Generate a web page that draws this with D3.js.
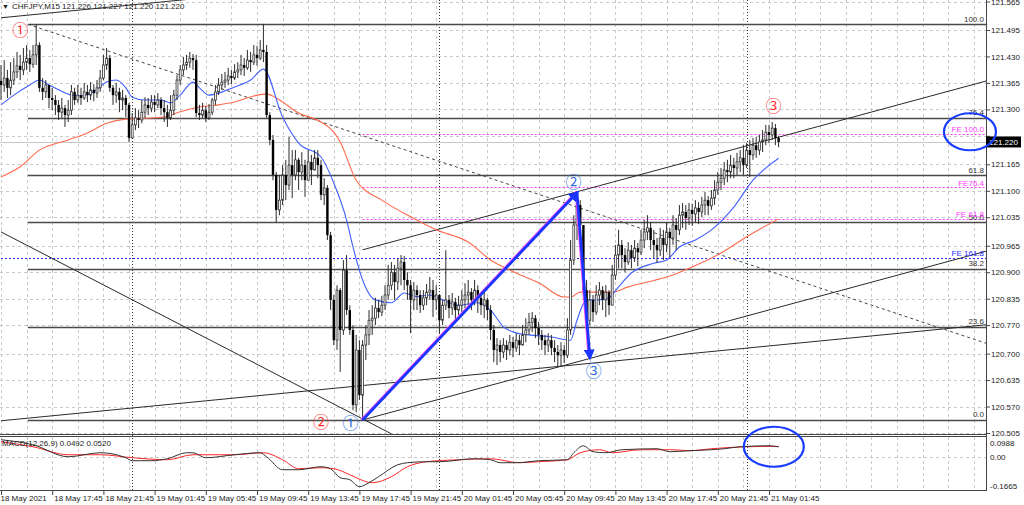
<!DOCTYPE html>
<html><head><meta charset="utf-8">
<script src="https://cdn.jsdelivr.net/npm/d3@7"></script>
<style>
html,body{margin:0;padding:0;background:#fff;overflow:hidden;}
svg{display:block;font-family:"Liberation Sans",Arial,sans-serif;}
</style></head><body>
<svg id="c" width="1024" height="505"></svg>
<script>
// ---------------- DATA ----------------
const symbolTitle = "CHFJPY,M15";
const lastQuote = ["121.226","121.227","121.220","121.220"];
const firstOpen = 121.370;
const closeP = [121.360,121.377,121.353,121.372,121.392,121.407,121.397,121.416,121.426,121.411,
121.434,121.458,121.353,121.343,121.360,121.328,121.323,121.311,121.293,121.303,
121.286,121.298,121.343,121.323,121.335,121.328,121.343,121.335,121.348,121.340,
121.353,121.377,121.409,121.426,121.353,121.335,121.343,121.323,121.328,121.311,
121.230,121.262,121.279,121.274,121.293,121.311,121.303,121.318,121.311,121.323,
121.303,121.293,121.279,121.298,121.335,121.372,121.397,121.409,121.416,121.426,
121.421,121.291,121.286,121.298,121.279,121.293,121.323,121.343,121.360,121.367,
121.372,121.382,121.377,121.392,121.397,121.409,121.402,121.421,121.416,121.434,
121.426,121.446,121.441,121.286,121.225,121.139,121.053,121.077,121.139,121.114,
121.163,121.139,121.176,121.146,121.163,121.126,121.171,121.151,121.181,121.163,
121.090,121.107,120.991,120.832,120.733,120.856,120.758,120.905,120.807,120.758,
120.574,120.709,120.598,120.721,120.746,120.782,120.787,120.812,120.802,120.819,
120.844,120.868,120.900,120.876,120.910,120.925,120.881,120.868,120.832,120.856,
120.844,120.819,120.837,120.851,120.856,120.832,120.844,120.782,120.819,120.832,
120.812,120.827,120.807,120.819,120.832,120.844,120.851,120.832,120.856,120.837,
120.819,120.832,120.807,120.758,120.709,120.721,120.704,120.721,120.709,120.728,
120.714,120.733,120.721,120.746,120.758,120.777,120.787,120.763,120.746,120.733,
120.721,120.733,120.714,120.704,120.696,120.709,120.696,120.758,120.930,121.016,
121.065,121.016,120.856,120.782,120.832,120.802,120.844,120.856,120.832,120.851,
120.819,120.893,120.942,120.967,120.942,120.925,120.954,120.935,120.959,120.949,
120.979,120.999,121.009,120.979,120.967,120.954,120.984,120.967,120.999,120.984,
121.016,121.004,121.040,121.048,121.033,121.053,121.043,121.058,121.048,121.065,
121.077,121.063,121.082,121.102,121.121,121.131,121.151,121.146,121.163,121.156,
121.171,121.181,121.163,121.200,121.188,121.212,121.200,121.220,121.225,121.244,
121.237,121.254,121.230,121.220];
const highP = [121.409,121.421,121.397,121.416,121.426,121.441,121.434,121.451,121.458,121.446,
121.458,121.509,121.465,121.377,121.372,121.360,121.353,121.335,121.323,121.328,
121.311,121.323,121.360,121.353,121.360,121.353,121.365,121.360,121.367,121.362,
121.372,121.397,121.434,121.451,121.434,121.360,121.365,121.353,121.348,121.335,
121.316,121.291,121.303,121.298,121.323,121.330,121.328,121.335,121.335,121.340,
121.330,121.323,121.311,121.335,121.348,121.384,121.409,121.429,121.434,121.441,
121.436,121.434,121.311,121.316,121.308,121.313,121.328,121.360,121.377,121.387,
121.392,121.402,121.397,121.411,121.416,121.434,121.426,121.446,121.441,121.458,
121.456,121.470,121.510,121.458,121.293,121.237,121.146,121.139,121.163,121.176,
121.232,121.200,121.200,121.181,121.195,121.176,121.200,121.188,121.200,121.200,
121.176,121.131,121.114,120.999,120.844,120.868,120.861,120.930,120.942,120.819,
120.770,120.746,120.733,120.733,120.770,120.807,120.819,120.837,120.832,120.842,
120.868,120.918,120.925,120.918,120.935,120.942,120.940,120.900,120.881,120.876,
120.868,120.856,120.856,120.871,120.888,120.881,120.868,120.832,120.832,120.954,
120.844,120.849,120.837,120.842,120.856,120.873,120.881,120.861,120.881,120.868,
120.849,120.856,120.837,120.819,120.770,120.738,120.733,120.738,120.733,120.746,
120.741,120.750,120.746,120.770,120.787,120.800,120.802,120.795,120.778,120.758,
120.746,120.750,120.746,120.733,120.721,120.728,120.721,120.787,120.979,121.040,
121.095,121.077,121.016,120.881,120.856,120.844,120.868,120.876,120.866,120.868,
120.856,120.918,120.967,121.004,120.979,120.959,120.974,120.967,120.979,120.972,
121.004,121.028,121.040,121.023,121.004,120.984,121.009,121.004,121.023,121.009,
121.040,121.033,121.065,121.070,121.065,121.070,121.068,121.077,121.072,121.085,
121.097,121.087,121.102,121.126,121.146,121.156,121.171,121.176,121.188,121.181,
121.193,121.200,121.212,121.217,121.225,121.230,121.232,121.237,121.249,121.262,
121.262,121.269,121.264,121.235];
const lowP = [121.323,121.343,121.328,121.335,121.360,121.377,121.372,121.384,121.397,121.392,
121.402,121.409,121.343,121.323,121.328,121.303,121.298,121.286,121.274,121.279,
121.257,121.269,121.286,121.311,121.316,121.311,121.323,121.318,121.323,121.320,
121.328,121.343,121.372,121.397,121.343,121.311,121.316,121.293,121.298,121.281,
121.220,121.232,121.249,121.254,121.266,121.279,121.286,121.293,121.293,121.303,
121.286,121.269,121.257,121.274,121.286,121.323,121.360,121.384,121.397,121.402,
121.397,121.281,121.274,121.279,121.269,121.274,121.286,121.311,121.335,121.348,
121.353,121.360,121.362,121.372,121.377,121.384,121.382,121.397,121.392,121.409,
121.407,121.421,121.416,121.279,121.212,121.126,121.023,121.040,121.065,121.077,
121.102,121.082,121.126,121.102,121.126,121.085,121.131,121.114,121.151,121.131,
121.077,121.065,120.979,120.807,120.721,120.709,120.655,120.746,120.795,120.746,
120.561,120.556,120.586,120.537,120.684,120.721,120.746,120.770,120.787,120.792,
120.807,120.832,120.856,120.832,120.856,120.868,120.856,120.832,120.750,120.807,
120.807,120.800,120.807,120.819,120.832,120.790,120.807,120.750,120.770,120.807,
120.787,120.795,120.782,120.795,120.802,120.812,120.819,120.807,120.819,120.800,
120.795,120.787,120.782,120.733,120.679,120.672,120.679,120.689,120.684,120.696,
120.691,120.704,120.696,120.721,120.728,120.746,120.753,120.738,120.721,120.709,
120.696,120.704,120.696,120.679,120.667,120.669,120.677,120.689,120.746,120.918,
120.979,120.954,120.832,120.758,120.770,120.778,120.795,120.819,120.807,120.790,
120.795,120.819,120.881,120.910,120.910,120.900,120.918,120.910,120.925,120.915,
120.942,120.959,120.979,120.954,120.935,120.923,120.940,120.930,120.949,120.937,
120.967,120.954,120.991,121.009,121.004,121.016,121.014,121.023,121.018,121.035,
121.040,121.040,121.053,121.065,121.090,121.102,121.114,121.121,121.131,121.131,
121.139,121.146,121.139,121.156,121.134,121.176,121.181,121.188,121.195,121.212,
121.217,121.225,121.212,121.207];

// moving averages (bar index / price)
const maFastIdx = [0,4,9,12,15,18,22,25,29,33,36,39,41,45,50,53,56,60,62,65,68,73,78,82,88,93,100,104,108,110,113,117,122,126,130,134,138,143,149,153,157,161,165,172,178,180,183,187,190,193,197,204,208,212,217,222,229,235,243];
const maFast = [121.311,121.335,121.360,121.372,121.360,121.348,121.335,121.333,121.343,121.367,121.372,121.353,121.330,121.323,121.323,121.316,121.335,121.367,121.353,121.335,121.340,121.355,121.372,121.399,121.281,121.217,121.183,121.119,121.028,120.962,120.881,120.832,120.825,120.849,120.840,120.844,120.832,120.819,120.825,120.807,120.766,120.751,120.746,120.741,120.733,120.782,120.832,120.832,120.837,120.864,120.898,120.922,120.930,120.962,120.979,121.004,121.060,121.126,121.180];
const maSlowIdx = [0,6,12,21,27,33,39,47,51,56,62,68,73,79,83,86,93,100,104,106,111,119,128,136,146,153,161,168,176,178,181,187,191,196,202,208,216,225,233,243];
const maSlow = [121.134,121.159,121.200,121.225,121.242,121.266,121.276,121.279,121.281,121.294,121.306,121.311,121.318,121.333,121.338,121.328,121.291,121.269,121.244,121.220,121.126,121.077,121.036,121.004,120.974,120.930,120.898,120.874,120.839,120.839,120.851,120.851,120.851,120.864,120.876,120.888,120.913,120.947,120.987,121.031];

// MACD(12,26,9)
const macdIdx = [0,10,21,31,39,41,47,52,58,60,64,73,81,83,88,93,100,103,106,109,112,115,118,124,127,133,137,148,153,156,161,168,177,179,182,185,189,194,205,209,215,226,231,240,243];
const macdVal = [0.085,0.060,0.000,0.020,-0.005,-0.020,-0.020,-0.010,0.020,0.020,-0.005,0.010,0.020,0.000,-0.065,-0.065,-0.050,-0.060,-0.105,-0.115,-0.150,-0.130,-0.100,-0.040,-0.030,-0.025,-0.025,-0.010,-0.015,-0.030,-0.030,-0.020,-0.015,0.020,0.055,0.025,0.020,0.035,0.040,0.025,0.030,0.040,0.050,0.055,0.0492];
const signalIdx = [0,10,21,31,41,52,60,73,82,88,93,100,104,109,111,116,122,127,133,143,153,162,168,177,181,187,191,200,210,215,222,233,243];
const signalVal = [0.075,0.050,0.010,0.010,-0.005,-0.015,0.010,0.010,0.020,-0.015,-0.060,-0.055,-0.060,-0.090,-0.105,-0.130,-0.100,-0.050,-0.025,-0.015,-0.010,-0.030,-0.025,-0.015,0.020,0.035,0.020,0.035,0.035,0.030,0.040,0.050,0.052];
const macdLabel = "MACD(12,26,9) 0.0492 0.0520";

// axes
const priceTicks = [121.565,121.495,121.430,121.365,121.300,121.235,121.165,121.100,121.035,120.965,120.900,120.835,120.770,120.700,120.635,120.570,120.505];
const hiddenPriceTick = 121.235; // covered by the current-price box
const macdTicks = [0.0988,0.00,-0.1665];
const macdTickText = ["0.0988","0.00","-0.1665"];
const timeIdx = [0,16,32,48,64,80,96,112,128,144,160,176,192,208,224,240];
const timeLabels = ["18 May 2021","18 May 17:45","18 May 21:45","19 May 01:45","19 May 05:45","19 May 09:45","19 May 13:45","19 May 17:45","19 May 21:45","20 May 01:45","20 May 05:45","20 May 09:45","20 May 13:45","20 May 17:45","20 May 21:45","21 May 01:45"];
const daySepIdx = [41,137,233];
const currentPrice = 121.220;

// Fibonacci retracement (anchors) and expansion levels
const fibHigh = 121.509, fibLow = 120.537, fibStartIdx = 8.4;
const fibRatios = [0,23.6,38.2,50.0,61.8,76.4,100.0];
const feNames = ["FE 100.0","FE76.4","FE 61.8","FE 161.8"];
const fePrices = [121.240,121.109,121.031,120.935];
const feStartIdx = [113,113,113,0];
const feColors = ["#ff3cff","#ff3cff","#ff3cff","#2a2aff"];

// trendlines [ [idx,price],[idx,price] ]
const trendDashed = [[8.4,121.509],[308,120.725]];
const trendFall = [[0,120.999],[122,120.503]];
const channelUpper = [[113,120.955],[308,121.370]];
const channelLower = [[113,120.537],[308,120.952]];
const longRise = [[0,120.535],[308,120.771]];
const topRise = [[0,121.525],[58,121.570]];

// wave points (blue arrows) and labels
const wavePts = [[113,120.537],[180,121.095],[184,120.691]];
const redLabels = [["①",6.0,121.497],["②",100.0,120.535],["③",241.4,121.311]];
const blueLabels = [["①",109.2,120.532],["②",178.9,121.124],["③",185.2,120.660]];

// ---------------- DRAW ----------------
const svg = d3.select("#c");
const PR = 986, MB = 434, ST = 437, SB = 490;
const x = d3.scaleLinear().domain([0,308]).range([1,986.6]);
const y = d3.scaleLinear().domain([120.505,121.495]).range([433,30]);
const ym = d3.scaleLinear().domain([-0.1665,0.0988]).range([SB,ST]);
const cx = v => Math.round(x(v)) + 0.5;
const cy = v => Math.round(y(v)) + 0.5;

const defs = svg.append("defs");
defs.append("clipPath").attr("id","cm").append("rect").attr("x",0).attr("y",0).attr("width",PR).attr("height",MB);
defs.append("clipPath").attr("id","cs").append("rect").attr("x",0).attr("y",ST).attr("width",PR).attr("height",SB-ST);
defs.append("marker").attr("id","arr").attr("viewBox","0 0 10 10").attr("refX",7).attr("refY",5)
  .attr("markerWidth",11).attr("markerHeight",11).attr("markerUnits","userSpaceOnUse").attr("orient","auto")
  .append("path").attr("d","M0,0L10,5L0,10z").attr("fill","#1b35ff");

svg.append("rect").attr("width",1024).attr("height",505).attr("fill","#fff");

// grid
const gridIdx = d3.range(0,308,8);
const grid = svg.append("g").attr("stroke","#c9c9c9").attr("stroke-dasharray","3,3").attr("shape-rendering","crispEdges");
grid.selectAll(".gv").data(gridIdx).join("line").attr("x1",cx).attr("x2",cx).attr("y1",0).attr("y2",MB);
grid.selectAll(".gvs").data(gridIdx).join("line").attr("x1",cx).attr("x2",cx).attr("y1",ST).attr("y2",SB);
grid.selectAll(".gh").data(priceTicks).join("line").attr("x1",0).attr("x2",PR).attr("y1",cy).attr("y2",cy);
grid.append("line").attr("x1",0).attr("x2",PR).attr("y1",Math.round(ym(0))+0.5).attr("y2",Math.round(ym(0))+0.5);

// day separators
svg.append("g").attr("stroke","#333").attr("stroke-dasharray","1,2").attr("shape-rendering","crispEdges")
  .selectAll("line").data(daySepIdx).join("line").attr("x1",cx).attr("x2",cx).attr("y1",0).attr("y2",SB);

const main = svg.append("g").attr("clip-path","url(#cm)");

// current price line
main.append("line").attr("x1",0).attr("x2",PR).attr("y1",cy(currentPrice)).attr("y2",cy(currentPrice))
  .attr("stroke","#c8c8c8").attr("stroke-width",1);

// FE dotted levels
fePrices.forEach((p,k)=>{
  main.append("line").attr("x1",x(feStartIdx[k])).attr("x2",PR).attr("y1",cy(p)).attr("y2",cy(p))
    .attr("stroke",feColors[k]).attr("stroke-dasharray","2,2").attr("stroke-width",1);
});

// fib retracement
const fibPrices = fibRatios.map(r => fibLow + (fibHigh-fibLow)*r/100);
main.selectAll(".fib").data(fibPrices).join("line").attr("x1",x(fibStartIdx)).attr("x2",PR)
  .attr("y1",cy).attr("y2",cy).attr("stroke","#4a4a4a").attr("stroke-width",1.3);

// trendlines
const tl = d3.line().x(d=>x(d[0])).y(d=>y(d[1]));
[trendFall,channelUpper,channelLower,longRise,topRise].forEach(s=>{
  main.append("path").attr("d",tl(s)).attr("fill","none").attr("stroke","#2a2a2a").attr("stroke-width",1);
});
main.append("path").attr("d",tl(trendDashed)).attr("fill","none").attr("stroke","#444").attr("stroke-width",1).attr("stroke-dasharray","3,3");

// moving averages
const ml = d3.line().curve(d3.curveMonotoneX);
main.append("path").attr("d",ml(maSlowIdx.map((d,i)=>[x(d),y(maSlow[i])]))).attr("fill","none").attr("stroke","#ff6a4d").attr("stroke-width",1.1);
main.append("path").attr("d",ml(maFastIdx.map((d,i)=>[x(d),y(maFast[i])]))).attr("fill","none").attr("stroke","#4060ff").attr("stroke-width",1.1);

// candles
const bars = closeP.map((c,i)=>{const o = i ? closeP[i-1] : firstOpen; return {i,o,c,h:Math.max(highP[i],o,c),l:Math.min(lowP[i],o,c)};});
const cg = main.append("g");
cg.selectAll(".w").data(bars).join("line").attr("x1",d=>x(d.i)).attr("x2",d=>x(d.i))
  .attr("y1",d=>y(d.h)).attr("y2",d=>y(d.l)).attr("stroke","#2b2b2b").attr("stroke-width",1);
cg.selectAll(".b").data(bars).join("rect")
  .attr("x",d=>x(d.i)-(d.c>=d.o?0.95:1.2)).attr("width",d=>d.c>=d.o?1.9:2.4)
  .attr("y",d=>y(Math.max(d.o,d.c))).attr("height",d=>Math.max(0.8,Math.abs(y(d.o)-y(d.c))))
  .attr("fill",d=>d.c>=d.o?"#fff":"#000").attr("stroke",d=>d.c>=d.o?"#333":"none").attr("stroke-width",0.8);

// wave arrows
const wp = wavePts.map(d=>[x(d[0]),y(d[1])]);
main.append("path").attr("d",d3.line()(wp)).attr("fill","none").attr("stroke","#ff40ff").attr("stroke-width",1.2).attr("transform","translate(-1.6,-0.6)");
for(let k=0;k<wp.length-1;k++){
  main.append("line").attr("x1",wp[k][0]).attr("y1",wp[k][1]).attr("x2",wp[k+1][0]).attr("y2",wp[k+1][1])
    .attr("stroke","#1b35ff").attr("stroke-width",2.8).attr("marker-end","url(#arr)");
}

// circled labels
const cj = '"Noto Sans CJK JP","DejaVu Sans",sans-serif';
svg.selectAll(".rl").data(redLabels).join("text").attr("x",d=>x(d[1])).attr("y",d=>y(d[2]))
  .attr("text-anchor","middle").attr("dominant-baseline","central").attr("font-family",cj).attr("font-size",16)
  .attr("fill","#ff3030").text(d=>d[0]);
svg.selectAll(".bl").data(blueLabels).join("text").attr("x",d=>x(d[1])).attr("y",d=>y(d[2]))
  .attr("text-anchor","middle").attr("dominant-baseline","central").attr("font-family",cj).attr("font-size",16)
  .attr("fill","#2f6fe0").text(d=>d[0]);

// level texts
svg.selectAll(".ft").data(fibRatios).join("text").attr("x",984).attr("y",(d,i)=>y(fibPrices[i])-2.5)
  .attr("text-anchor","end").attr("font-size",8).attr("fill","#333").text(d=>d.toFixed(1));
svg.selectAll(".fe").data(feNames).join("text").attr("x",984).attr("y",(d,i)=>y(fePrices[i])-1.5)
  .attr("text-anchor","end").attr("font-size",8).attr("fill",(d,i)=>feColors[i]).text(d=>d);

// MACD panel
const sub = svg.append("g").attr("clip-path","url(#cs)");
sub.append("path").attr("d",ml(signalIdx.map((d,i)=>[x(d),ym(signalVal[i])]))).attr("fill","none").attr("stroke","#ff2626").attr("stroke-width",1);
sub.append("path").attr("d",ml(macdIdx.map((d,i)=>[x(d),ym(macdVal[i])]))).attr("fill","none").attr("stroke","#333").attr("stroke-width",1);
svg.append("text").attr("x",2).attr("y",446).attr("font-size",8).attr("fill","#222").text(macdLabel);

// frames
const fr = svg.append("g").attr("stroke","#444").attr("shape-rendering","crispEdges").attr("fill","none");
fr.append("line").attr("x1",0).attr("x2",PR+1).attr("y1",MB+0.5).attr("y2",MB+0.5).attr("stroke-width",1.5);
fr.append("line").attr("x1",0).attr("x2",PR+1).attr("y1",ST-0.5).attr("y2",ST-0.5).attr("stroke-width",1.5);
fr.append("line").attr("x1",0).attr("x2",PR+1).attr("y1",SB+0.5).attr("y2",SB+0.5);
fr.append("line").attr("x1",PR+0.5).attr("x2",PR+0.5).attr("y1",0).attr("y2",SB+1);

// price axis
const pa = svg.append("g").attr("transform",`translate(${PR+1},0)`)
  .call(d3.axisRight(y).tickValues(priceTicks).tickSize(3).tickPadding(1)
    .tickFormat(d => d === hiddenPriceTick ? "" : d3.format(".3f")(d)));
pa.select(".domain").remove();
pa.selectAll("text").attr("font-size",8).attr("fill","#222").attr("font-family","Liberation Sans, Arial, sans-serif");
pa.selectAll("line").attr("stroke","#444");

// macd axis
svg.selectAll(".mt").data(macdTicks).join("text").attr("x",990)
  .attr("y",(d,i)=>ym(d)+[9,3.5,-1][i]).attr("font-size",8).attr("fill","#222").text((d,i)=>macdTickText[i]);

// current price box
svg.append("rect").attr("x",PR).attr("y",y(currentPrice)-5.5).attr("width",35).attr("height",11).attr("fill","#000");
svg.append("text").attr("x",989).attr("y",y(currentPrice)+3).attr("font-size",8).attr("fill","#fff").text(currentPrice.toFixed(3));

// time axis
const ta = svg.append("g").attr("transform",`translate(0,${SB+1})`)
  .call(d3.axisBottom(x).tickValues(timeIdx).tickSize(4).tickPadding(2).tickFormat((d,i)=>timeLabels[i]));
ta.select(".domain").remove();
ta.selectAll("line").attr("stroke","#444");
ta.selectAll("text").attr("text-anchor","start").attr("dx",(d,i)=>i?1.5:-1).attr("dy","0.55em")
  .attr("font-size",8).attr("fill","#222").attr("font-family","Liberation Sans, Arial, sans-serif");

// ellipses (annotations)
svg.append("ellipse").attr("cx",x(302.8)).attr("cy",y(121.245)).attr("rx",26).attr("ry",18.5)
  .attr("fill","none").attr("stroke","#1a3cff").attr("stroke-width",2.2);
svg.append("ellipse").attr("cx",x(241.5)).attr("cy",ym(0.05)).attr("rx",30).attr("ry",20)
  .attr("fill","none").attr("stroke","#1a3cff").attr("stroke-width",2.2);

// header
svg.append("text").attr("x",2).attr("y",9).attr("font-size",7).attr("fill","#222").text("▼");
svg.append("text").attr("x",12).attr("y",9).attr("font-size",8).attr("fill","#222")
  .text(symbolTitle + "  " + lastQuote.join(" "));
</script>
</body></html>
